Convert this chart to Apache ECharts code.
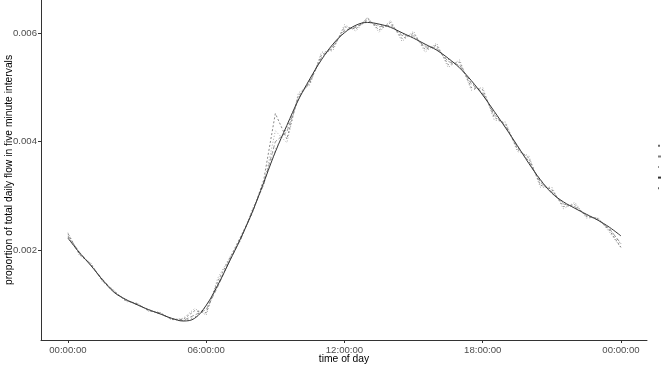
<!DOCTYPE html>
<html>
<head>
<meta charset="utf-8">
<script src="https://cdn.jsdelivr.net/npm/echarts@6/dist/echarts.min.js"></script>
<style>html,body{margin:0;padding:0;background:#fff}#c{width:661px;height:366px}</style>
</head>
<body>
<div id="c"></div>
<script>
// time of day in hours (half-hour steps)
const hours = [0,0.5,1,1.5,2,2.5,3,3.5,4,4.5,5,5.5,6,6.5,7,7.5,8,8.5,9,9.5,10,10.5,11,11.5,12,12.5,13,13.5,14,14.5,15,15.5,16,16.5,17,17.5,18,18.5,19,19.5,20,20.5,21,21.5,22,22.5,23,23.5,24];
const xTicks = [0,6,12,18,24];
const xTickLabels = ['00:00:00','06:00:00','12:00:00','18:00:00','00:00:00'];
const yTicks = [0.002,0.004,0.006];
const seriesNames = ['a','b','c','d','e'];

const smoothFit = [0.00222,0.00195,0.00171,0.00145,0.00122,0.00109,0.00099,0.00090,0.00082,0.00074,0.00069,0.00074,0.00098,0.00135,0.00178,0.00222,0.00270,0.00325,0.00381,0.00430,0.00477,0.00516,0.00551,0.00580,0.00601,0.00615,0.00620,0.00617,0.00611,0.00601,0.00591,0.00580,0.00569,0.00554,0.00536,0.00513,0.00486,0.00456,0.00425,0.00393,0.00360,0.00330,0.00305,0.00289,0.00277,0.00266,0.00255,0.00242,0.00226];
const flowA = [0.00230,0.00192,0.00174,0.00143,0.00124,0.00107,0.00101,0.00088,0.00084,0.00072,0.00072,0.00088,0.00084,0.00142,0.00183,0.00225,0.00268,0.00330,0.00452,0.00405,0.00485,0.00508,0.00560,0.00572,0.00612,0.00608,0.00628,0.00606,0.00620,0.00590,0.00600,0.00570,0.00578,0.00542,0.00547,0.00500,0.00496,0.00445,0.00432,0.00386,0.00370,0.00320,0.00312,0.00280,0.00284,0.00262,0.00258,0.00236,0.00205];
const flowB = [0.00226,0.00196,0.00172,0.00146,0.00123,0.00108,0.00100,0.00089,0.00083,0.00073,0.00070,0.00080,0.00090,0.00132,0.00180,0.00220,0.00272,0.00322,0.00400,0.00418,0.00480,0.00512,0.00555,0.00576,0.00606,0.00611,0.00624,0.00612,0.00615,0.00596,0.00595,0.00575,0.00573,0.00548,0.00541,0.00507,0.00490,0.00450,0.00428,0.00390,0.00364,0.00325,0.00308,0.00285,0.00280,0.00264,0.00256,0.00239,0.00212];
const flowC = [0.00232,0.00190,0.00176,0.00141,0.00126,0.00105,0.00102,0.00087,0.00085,0.00071,0.00074,0.00092,0.00080,0.00148,0.00185,0.00218,0.00275,0.00320,0.00420,0.00398,0.00490,0.00505,0.00565,0.00568,0.00616,0.00604,0.00630,0.00602,0.00624,0.00585,0.00604,0.00565,0.00582,0.00537,0.00551,0.00495,0.00500,0.00440,0.00436,0.00382,0.00374,0.00316,0.00316,0.00276,0.00288,0.00259,0.00260,0.00233,0.00204];
const flowD = [0.00224,0.00194,0.00172,0.00144,0.00122,0.00108,0.00099,0.00090,0.00082,0.00073,0.00069,0.00076,0.00095,0.00137,0.00178,0.00223,0.00270,0.00326,0.00385,0.00426,0.00478,0.00514,0.00552,0.00578,0.00603,0.00613,0.00621,0.00615,0.00612,0.00599,0.00592,0.00578,0.00570,0.00552,0.00538,0.00510,0.00488,0.00453,0.00426,0.00391,0.00362,0.00328,0.00306,0.00287,0.00278,0.00265,0.00256,0.00240,0.00210];

const pair = vals => hours.map((h,i)=>[h, vals[i]]);
const font = 'Liberation Sans, Arial, sans-serif';

const chart = echarts.init(document.getElementById('c'), null, {renderer:'canvas'});
chart.setOption({
  animation:false,
  backgroundColor:'#fff',
  grid:{left:41, right:14, top:0, bottom:26, containLabel:false, outerBoundsMode:'none'},
  legend:{
    orient:'vertical', left:657, top:141, itemWidth:17, itemHeight:12, itemGap:1, padding:0,
    textStyle:{fontSize:9, fontFamily:font, color:'#000'},
    data: seriesNames
  },
  xAxis:{
    type:'value', min:-1.17, max:25.13,
    name:'time of day', nameLocation:'middle', nameGap:14, nameMoveOverlap:false,
    nameTextStyle:{fontSize:10.3, fontFamily:font, color:'#000'},
    axisLine:{show:true, onZero:false, lineStyle:{color:'#333', width:1}},
    axisTick:{show:true, customValues:xTicks, length:3, lineStyle:{color:'#333'}},
    axisLabel:{customValues:xTicks, fontSize:9.6, fontFamily:font, color:'#4d4d4d', margin:5,
      formatter:(v)=>xTickLabels[xTicks.indexOf(v)]},
    splitLine:{show:false}
  },
  yAxis:{
    type:'value', min:0.000339, max:0.006615,
    name:'proportion of total daily flow in five minute intervals', nameLocation:'middle', nameGap:27, nameMoveOverlap:false,
    nameTextStyle:{fontSize:10.3, fontFamily:font, color:'#000'},
    axisLine:{show:true, onZero:false, lineStyle:{color:'#333', width:1}},
    axisTick:{show:true, customValues:yTicks, length:3, lineStyle:{color:'#333'}},
    axisLabel:{customValues:yTicks, fontSize:9.6, fontFamily:font, color:'#4d4d4d', margin:4,
      formatter:(v)=>v.toFixed(3)},
    splitLine:{show:false}
  },
  series:[
    {name:'a', type:'line', data:pair(flowA), symbol:'none', lineStyle:{color:'#6a6a6a', width:0.8, type:[2,2]}},
    {name:'b', type:'line', data:pair(flowB), symbol:'none', lineStyle:{color:'#808080', width:0.8, type:[4,2]}},
    {name:'c', type:'line', data:pair(flowC), symbol:'none', lineStyle:{color:'#909090', width:0.8, type:[1,2]}},
    {name:'d', type:'line', data:pair(smoothFit), symbol:'none', smooth:0.4, lineStyle:{color:'#333', width:1}},
    {name:'e', type:'line', data:pair(flowD), symbol:'none', lineStyle:{color:'#606060', width:0.8, type:[1,3]}}
  ]
});
</script>
</body>
</html>
